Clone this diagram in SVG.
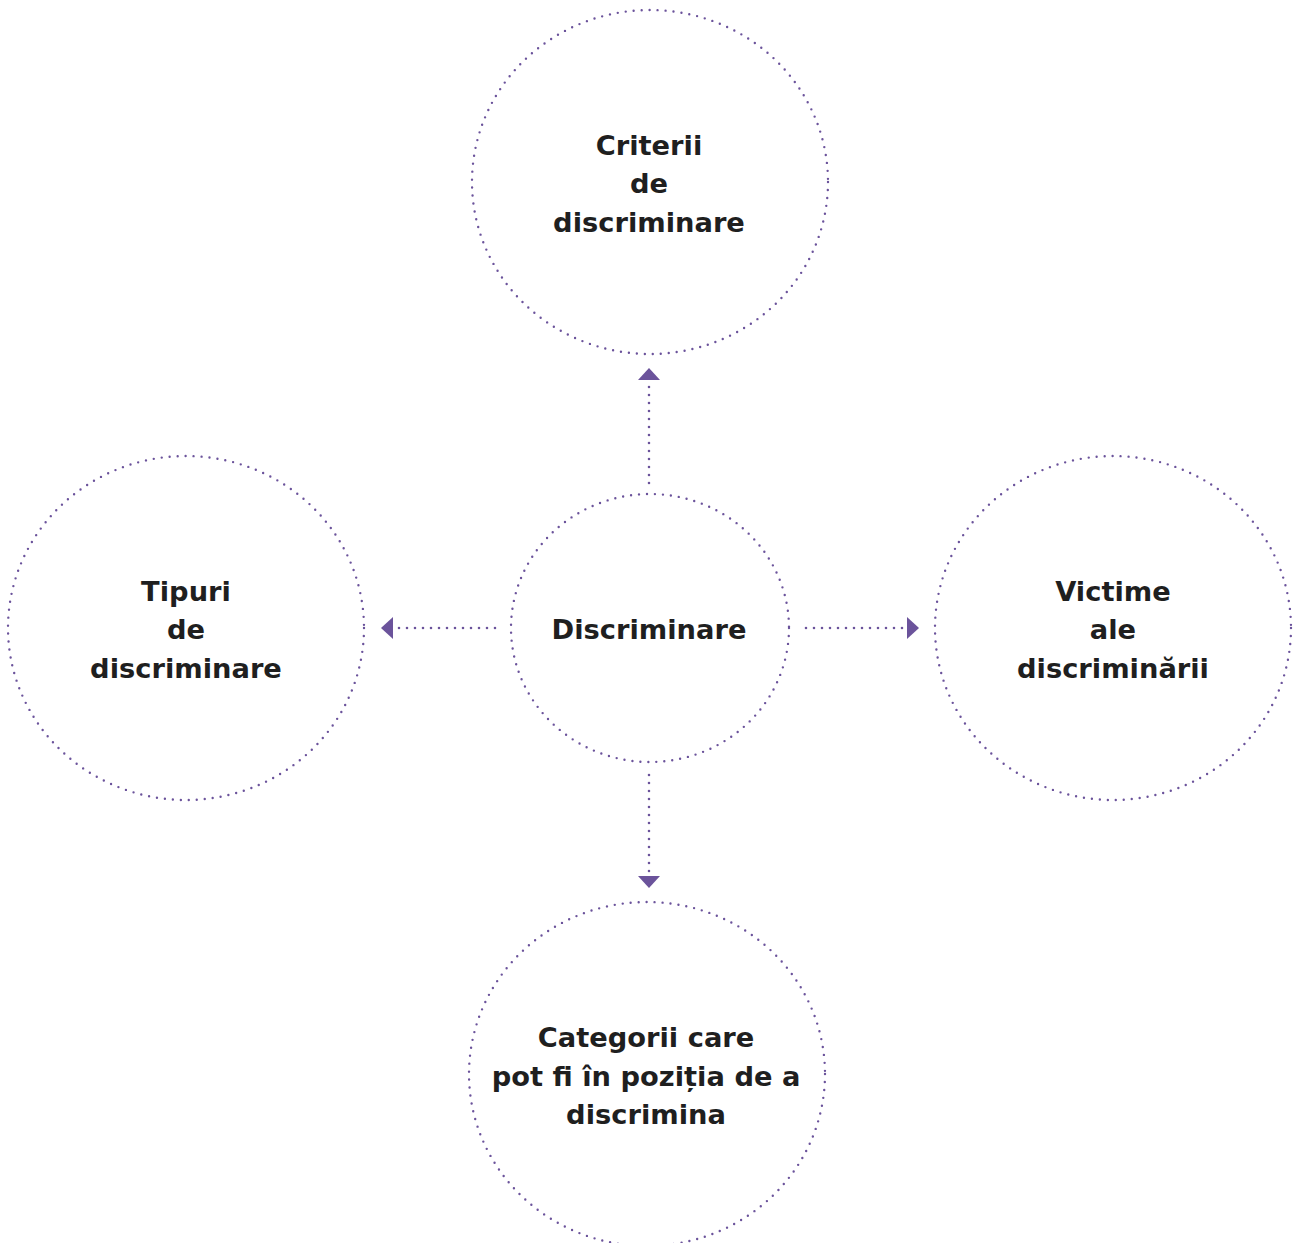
<svg xmlns="http://www.w3.org/2000/svg" width="1298" height="1243" viewBox="0 0 1298 1243">
<style>
.c{fill:none;stroke:#6b539b;stroke-width:2.4;stroke-dasharray:0 8;stroke-linecap:round}
.l{fill:none;stroke:#6b539b;stroke-width:2.6;stroke-dasharray:0 8;stroke-linecap:round}
.h{fill:#6b539b}
text{font-family:"DejaVu Sans","Liberation Sans",sans-serif;font-weight:700;font-size:27.3px;fill:#1f1f1f;text-anchor:middle}
</style>
<rect width="1298" height="1243" fill="#fff"/>
<g id="connectors">
<path class="l" d="M649 483V384"/><polygon class="h" points="649,368 660,380 638,380"/>
<path class="l" d="M495 628H398"/><polygon class="h" points="381,628 393,617 393,639"/>
<path class="l" d="M806 628H903"/><polygon class="h" points="919,628 907,617 907,639"/>
<path class="l" d="M649 775V872"/><polygon class="h" points="649,888 638,876 660,876"/>
</g>
<g id="center"><ellipse class="c" cx="650" cy="628" rx="139" ry="134"/><text x="649" y="639">Discriminare</text></g>
<g id="top"><ellipse class="c" cx="650" cy="182" rx="178" ry="172"/><text x="649" y="155">Criterii</text><text x="649" y="193">de</text><text x="649" y="232">discriminare</text></g>
<g id="left"><ellipse class="c" cx="186" cy="628" rx="178" ry="172"/><text x="186" y="601">Tipuri</text><text x="186" y="639">de</text><text x="186" y="678">discriminare</text></g>
<g id="right"><ellipse class="c" cx="1113" cy="628" rx="178" ry="172"/><text x="1113" y="601">Victime</text><text x="1113" y="639">ale</text><text x="1113" y="678">discriminării</text></g>
<g id="bottom"><ellipse class="c" cx="647" cy="1074" rx="178" ry="172"/><text x="646" y="1047">Categorii care</text><text x="646" y="1086">pot fi în poziția de a</text><text x="646" y="1124">discrimina</text></g>
</svg>
